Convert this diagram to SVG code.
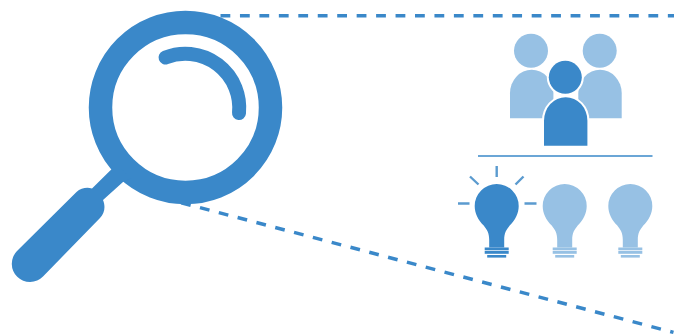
<svg xmlns="http://www.w3.org/2000/svg" xmlns:xlink="http://www.w3.org/1999/xlink" width="683" height="335" viewBox="0 0 683 335">
<style>
.dash{fill:none;stroke:#3a88c9;stroke-width:3.500;stroke-dasharray:9.800 9.650}
.dark{fill:#3a88c9}
.light{fill:#97c1e4}
.halo{stroke:#fff;stroke-width:4;paint-order:stroke}
.ray{stroke:#5b9bcf;stroke-width:2.400;fill:none}
</style>
<defs>
<path id="body" d="M0 0V-25A21.7 23.500 0 0 1 43.400 -25V0Z"/>
<g id="bulb">
<path d="M-7.500 41.500V34C-7.500 27 -9.500 24 -13 19.500C-18.500 14 -22 7.500 -22 0A22 22 0 0 1 22 0C22 7.500 18.500 14 13 19.500C9.500 24 7.500 27 7.500 34V41.500Z"/>
<rect x="-12" y="41.500" width="24" height="2.800"/>
<rect x="-12" y="45" width="24" height="2.800"/>
<rect x="-9.500" y="49" width="19" height="2.600"/>
</g>
</defs>
<rect width="683" height="335" fill="#fff"/>
<g id="connectors">
<path class="dash" d="M220.500 15.800H674"/>
<path class="dash" d="M181.200 202.700L673.500 332.400"/>
</g>
<g id="magnifier">
<circle cx="185.500" cy="107.500" r="85" fill="none" stroke="#3a88c9" stroke-width="23.500"/>
<path d="M165.500 57.500A54 54 0 0 1 239 113" fill="none" stroke="#3a88c9" stroke-width="14" stroke-linecap="round"/>
<path class="dark" d="M76.500 192C81 188 87 187 92 188.500L110 170.700 116 165 132 178 123 182 103 200C105.500 206 105 213 100 218L43 276.500A17.500 17.500 0 0 1 17 251Z"/>
</g>
<g id="people">
<circle class="light" cx="531" cy="50.700" r="17"/>
<circle class="light" cx="599.700" cy="50.700" r="17"/>
<use xlink:href="#body" href="#body" class="light" x="510" y="118.300"/>
<use xlink:href="#body" href="#body" class="light" x="578.300" y="118.300"/>
<circle class="dark halo" cx="565.300" cy="77.300" r="16.500"/>
<use xlink:href="#body" href="#body" class="dark halo" x="544" y="145.700"/>
</g>
<g id="divider"><path d="M478 156H652.500" stroke="#3a88c9" stroke-width="1.600" fill="none"/></g>
<g id="bulb-lit">
<path class="ray" d="M496.700 166V177M470 176.500L478.500 184.500M523.500 176.500L515.500 184.500M458 203.500H469.500M524.500 203.500H536.500"/>
<use xlink:href="#bulb" href="#bulb" class="dark" x="496.700" y="206"/>
</g>
<g id="bulb-2"><use xlink:href="#bulb" href="#bulb" class="light" x="564.700" y="206"/></g>
<g id="bulb-3"><use xlink:href="#bulb" href="#bulb" class="light" x="630.300" y="206"/></g>
</svg>
